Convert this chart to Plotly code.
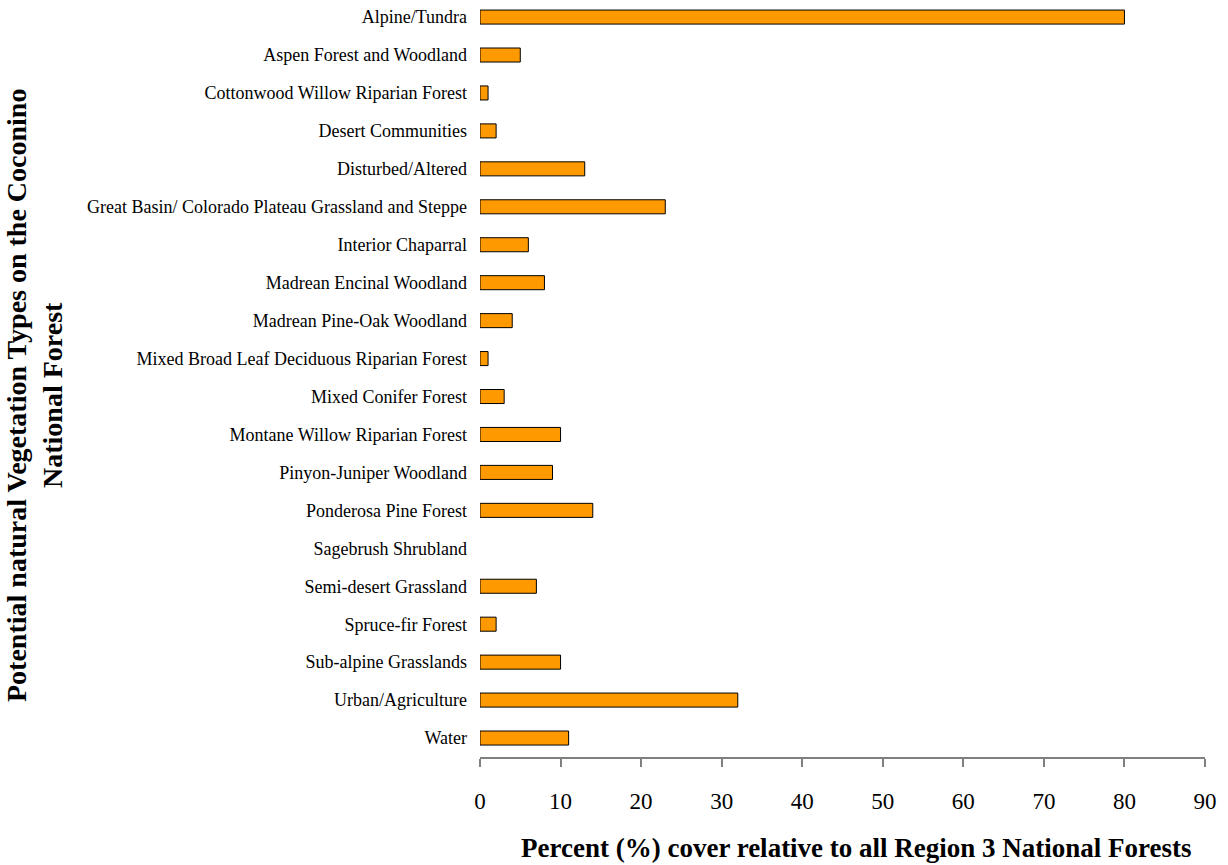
import plotly.graph_objects as go

categories = [
    "Alpine/Tundra",
    "Aspen Forest and Woodland",
    "Cottonwood Willow Riparian Forest",
    "Desert Communities",
    "Disturbed/Altered",
    "Great Basin/ Colorado Plateau Grassland and Steppe",
    "Interior Chaparral",
    "Madrean Encinal Woodland",
    "Madrean Pine-Oak Woodland",
    "Mixed Broad Leaf Deciduous Riparian Forest",
    "Mixed Conifer Forest",
    "Montane Willow Riparian Forest",
    "Pinyon-Juniper Woodland",
    "Ponderosa Pine Forest",
    "Sagebrush Shrubland",
    "Semi-desert Grassland",
    "Spruce-fir Forest",
    "Sub-alpine Grasslands",
    "Urban/Agriculture",
    "Water",
]
percent_cover = [80, 5, 1, 2, 13, 23, 6, 8, 4, 1, 3, 10, 9, 14, 0, 7, 2, 10, 32, 11]
x_ticks = [0, 10, 20, 30, 40, 50, 60, 70, 80, 90]

SERIF = "Liberation Serif, Times New Roman, serif"

# no outline on empty bars so a zero value leaves nothing drawn
outline_widths = [1 if v > 0 else 0 for v in percent_cover]

fig = go.Figure(
    go.Bar(
        x=percent_cover,
        y=categories,
        orientation="h",
        marker=dict(color="#FF9900", line=dict(color="#000000", width=outline_widths)),
        width=0.37,
    )
)

fig.update_layout(
    width=1228,
    height=865,
    margin=dict(l=480, r=23, t=0, b=108),
    plot_bgcolor="white",
    paper_bgcolor="white",
    showlegend=False,
    font=dict(family=SERIF, color="#000000"),
    xaxis=dict(
        range=[0, 90],
        tickvals=x_ticks,
        ticktext=[str(v) for v in x_ticks],
        showgrid=False,
        zeroline=False,
        showline=True,
        linecolor="#808080",
        linewidth=2,
        ticks="outside",
        ticklen=8,
        tickcolor="#808080",
        tickwidth=1.5,
        tickfont=dict(family=SERIF, size=23),
        ticklabelstandoff=14,
    ),
    yaxis=dict(
        categoryorder="array",
        categoryarray=categories,
        range=[19.5, -0.45],
        showgrid=False,
        zeroline=False,
        showline=False,
        ticks="",
        tickfont=dict(family=SERIF, size=18),
        ticklabelstandoff=12,
    ),
    annotations=[
        dict(
            text="<b>Potential natural Vegetation Types on the Coconino<br>National Forest</b>",
            textangle=-90,
            xref="paper",
            yref="paper",
            x=(34 - 480) / 725,
            y=1 - 395 / 757,
            xanchor="center",
            yanchor="middle",
            showarrow=False,
            font=dict(family=SERIF, size=28),
        ),
        dict(
            text="<b>Percent (%) cover relative to all Region 3 National Forests</b>",
            xref="paper",
            yref="paper",
            x=(856 - 480) / 725,
            y=(757 - 848) / 757,
            xanchor="center",
            yanchor="middle",
            showarrow=False,
            font=dict(family=SERIF, size=27),
        ),
    ],
)

fig.write_html("out.html")
